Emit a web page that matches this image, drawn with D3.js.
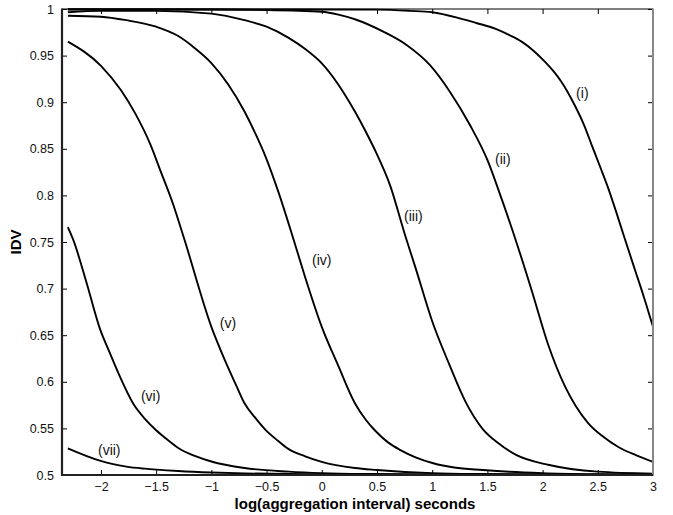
<!DOCTYPE html>
<html>
<head>
<meta charset="utf-8">
<script src="https://cdn.jsdelivr.net/npm/d3@7"></script>
<style>
  html, body { margin: 0; padding: 0; background: #fff; }
  svg { display: block; font-family: Arial, "Liberation Sans", Helvetica, sans-serif; }
</style>
</head>
<body>
<svg id="chart" width="673" height="515"></svg>
<script>
// Axis ticks
const xTicks = [-2, -1.5, -1, -0.5, 0, 0.5, 1, 1.5, 2, 2.5, 3];
const yTicks = [0.5, 0.55, 0.6, 0.65, 0.7, 0.75, 0.8, 0.85, 0.9, 0.95, 1];

// Curve labels
const seriesNames = ["(i)", "(ii)", "(iii)", "(iv)", "(v)", "(vi)", "(vii)"];

// IDV against log10 of the aggregation interval, one pair of arrays per curve
const xI   = [-2.3, 0.5, 0.8, 1.0, 1.25, 1.4, 1.57, 1.7, 1.81, 1.92, 2.02, 2.1, 2.17, 2.29, 2.37, 2.445, 2.52, 2.595, 2.67, 2.746, 2.837, 2.92, 3.0];
const yI   = [0.9997, 0.9993, 0.998, 0.9965, 0.990, 0.985, 0.979, 0.972, 0.965, 0.955, 0.9435, 0.933, 0.922, 0.897, 0.877, 0.854, 0.831, 0.8076, 0.781, 0.753, 0.720, 0.690, 0.659];

const xII  = [-2.3, -1.0, -0.5, 0.0, 0.15, 0.3, 0.557, 0.768, 0.978, 1.16, 1.342, 1.5, 1.6, 1.765, 1.9, 2.05, 2.203, 2.3, 2.414, 2.55, 2.686, 2.85, 3.0];
const yII  = [0.9995, 0.9995, 0.999, 0.997, 0.994, 0.989, 0.9757, 0.9614, 0.940, 0.9113, 0.8755, 0.838, 0.806, 0.749, 0.6985, 0.640, 0.595, 0.574, 0.5555, 0.541, 0.530, 0.521, 0.514];

const xIII = [-2.3, -2.0, -1.5, -1.0, -0.7, -0.5, -0.3, -0.15, 0.0, 0.3, 0.4, 0.5, 0.618, 0.754, 0.85, 1.0, 1.15, 1.3, 1.46, 1.6, 1.76, 2.06, 2.5, 3.0];
const yIII = [0.9965, 0.998, 0.998, 0.995, 0.988, 0.981, 0.969, 0.957, 0.9417, 0.890, 0.868, 0.844, 0.811, 0.7575, 0.722, 0.665, 0.620, 0.579, 0.549, 0.534, 0.5215, 0.5107, 0.5036, 0.5015];

const xIV  = [-2.3, -2.0, -1.77, -1.5, -1.3, -1.15, -1.0, -0.7, -0.6, -0.514, -0.394, -0.25, -0.152, 0.0, 0.15, 0.3, 0.4, 0.48, 0.6, 0.708, 0.85, 1.01, 1.2, 1.46, 1.7, 2.0, 2.5, 3.0];
const yIV  = [0.9928, 0.9917, 0.988, 0.981, 0.971, 0.958, 0.942, 0.890, 0.866, 0.843, 0.804, 0.7505, 0.7128, 0.659, 0.617, 0.577, 0.559, 0.548, 0.535, 0.527, 0.519, 0.5126, 0.508, 0.5054, 0.5035, 0.502, 0.5008, 0.5003];

const xV   = [-2.3, -2.0, -1.82, -1.69, -1.55, -1.46, -1.345, -1.24, -1.0, -0.877, -0.771, -0.7, -0.6, -0.514, -0.4, -0.303, -0.15, 0.0, 0.3, 0.5, 1.0, 1.5, 2.0, 3.0];
const yV   = [0.965, 0.939, 0.913, 0.888, 0.854, 0.826, 0.790, 0.751, 0.659, 0.623, 0.595, 0.577, 0.561, 0.549, 0.537, 0.528, 0.520, 0.514, 0.5075, 0.5054, 0.502, 0.501, 0.5005, 0.5002];

const xVI  = [-2.3, -2.25, -2.13, -2.01, -1.92, -1.83, -1.7, -1.6, -1.5, -1.4, -1.3, -1.15, -1.0, -0.7, -0.3, 0.0, 0.5, 1.0, 2.0, 3.0];
const yVI  = [0.766, 0.752, 0.706, 0.657, 0.631, 0.606, 0.575, 0.560, 0.548, 0.538, 0.529, 0.5205, 0.5145, 0.5075, 0.5036, 0.502, 0.501, 0.5005, 0.5002, 0.5001];

const xVII = [-2.3, -2.01, -1.9, -1.77, -1.6, -1.495, -1.3, -1.0, -0.7, -0.3, 0.0, 1.0, 3.0];
const yVII = [0.5286, 0.5154, 0.512, 0.509, 0.5068, 0.5058, 0.5043, 0.5027, 0.5017, 0.501, 0.5007, 0.5003, 0.5001];

// Where each curve's label sits, in data units
const labelX = [2.36, 1.64, 0.83, 0.0, -0.85, -1.55, -1.925];
const labelY = [0.910, 0.839, 0.778, 0.731, 0.663, 0.585, 0.527];

const seriesX = [xI, xII, xIII, xIV, xV, xVI, xVII];
const seriesY = [yI, yII, yIII, yIV, yV, yVI, yVII];

const margin = { left: 62, right: 20, top: 9, bottom: 40 };
const W = 673, H = 515;
const x = d3.scaleLinear().domain([-2.353, 3]).range([margin.left, W - margin.right]);
const y = d3.scaleLinear().domain([0.5, 1]).range([H - margin.bottom, margin.top]);

const svg = d3.select("#chart");
const x0 = x.range()[0], x1 = x.range()[1];
const y0 = y.range()[0], y1 = y.range()[1];

// Clip curves to the plotting box
svg.append("defs").append("clipPath").attr("id", "plotClip")
  .append("rect").attr("x", x0).attr("y", y1 - 1).attr("width", x1 - x0).attr("height", y0 - y1 + 2);

// Curves
const line = d3.line()
  .x(d => x(d[0]))
  .y(d => y(d[1]))
  .curve(d3.curveMonotoneX);

const gCurves = svg.append("g").attr("clip-path", "url(#plotClip)");
seriesX.forEach((xs, i) => {
  const pts = xs.map((v, j) => [v, seriesY[i][j]]);
  gCurves.append("path")
    .datum(pts)
    .attr("fill", "none")
    .attr("stroke", "#000")
    .attr("stroke-width", 1.9)
    .attr("stroke-linejoin", "round")
    .attr("d", line);
});

// Axes with inward ticks on all four sides
const tickLen = 5;
const axBottom = d3.axisBottom(x).tickValues(xTicks).tickSizeInner(-tickLen).tickSizeOuter(0)
  .tickPadding(7).tickFormat(d => d3.format("")(d).replace("-", "\u2212"));
const axLeft = d3.axisLeft(y).tickValues(yTicks).tickSizeInner(-tickLen).tickSizeOuter(0)
  .tickPadding(8).tickFormat(d3.format(""));
const axTop = d3.axisTop(x).tickValues(xTicks).tickSizeInner(-tickLen).tickSizeOuter(0).tickFormat("");
const axRight = d3.axisRight(y).tickValues(yTicks).tickSizeInner(-tickLen).tickSizeOuter(0).tickFormat("");

function styleAxis(g) {
  g.select(".domain").remove();
  g.selectAll(".tick line").attr("stroke", "#000").attr("stroke-width", 1);
  g.selectAll(".tick text").attr("fill", "#111").style("font-size", "12.5px");
}

svg.append("g").attr("transform", `translate(0,${y0})`).call(axBottom).call(styleAxis);
svg.append("g").attr("transform", `translate(${x0},0)`).call(axLeft).call(styleAxis);
svg.append("g").attr("transform", `translate(0,${y1})`).call(axTop).call(styleAxis);
svg.append("g").attr("transform", `translate(${x1},0)`).call(axRight).call(styleAxis);

// Box
svg.append("line").attr("x1", x0).attr("x2", x1).attr("y1", y1).attr("y2", y1)
  .attr("stroke", "#000").attr("stroke-width", 1.2);
svg.append("line").attr("x1", x1).attr("x2", x1).attr("y1", y1 - 0.5).attr("y2", y0 + 1)
  .attr("stroke", "#888").attr("stroke-width", 2);
svg.append("line").attr("x1", x0).attr("x2", x0).attr("y1", y1 - 0.5).attr("y2", y0 + 1)
  .attr("stroke", "#222").attr("stroke-width", 2.2);
svg.append("line").attr("x1", x0 - 1).attr("x2", x1).attr("y1", y0).attr("y2", y0)
  .attr("stroke", "#222").attr("stroke-width", 2.2);

// Curve labels
seriesNames.forEach((name, i) => {
  svg.append("text")
    .attr("x", x(labelX[i]))
    .attr("y", y(labelY[i]))
    .attr("text-anchor", "middle")
    .attr("dominant-baseline", "central")
    .style("font-size", "14px")
    .attr("fill", "#111")
    .text(name);
});

// Axis titles
svg.append("text")
  .attr("x", 355).attr("y", 508.5)
  .attr("text-anchor", "middle")
  .style("font-size", "15px").style("font-weight", "bold")
  .text("log(aggregation interval) seconds");

svg.append("text")
  .attr("transform", `translate(21,${(y0 + y1) / 2}) rotate(-90)`)
  .attr("text-anchor", "middle")
  .style("font-size", "15px").style("font-weight", "bold")
  .text("IDV");
</script>
</body>
</html>
